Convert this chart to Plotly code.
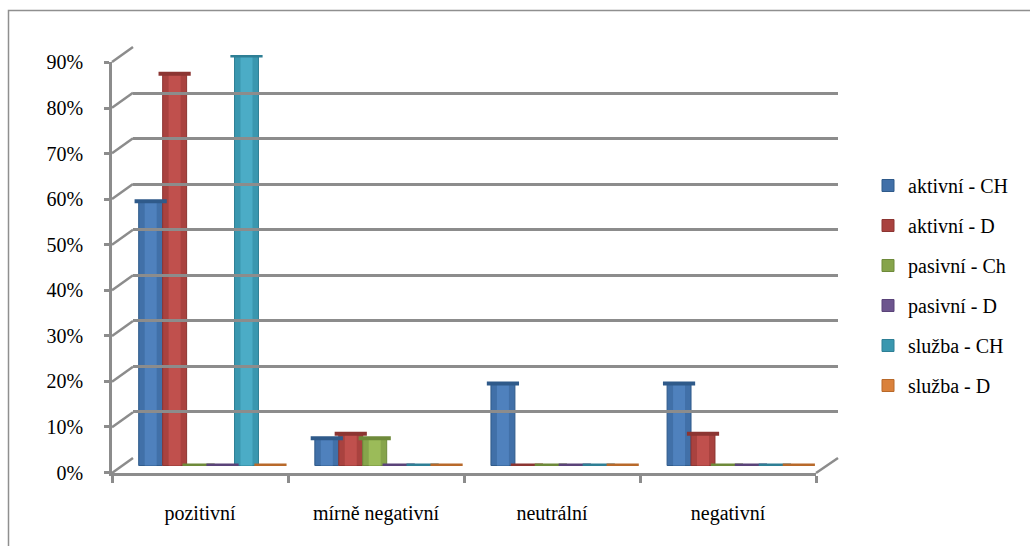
import plotly.graph_objects as go

# ---- data -------------------------------------------------------------
categories = ["pozitivní", "mírně negativní", "neutrální", "negativní"]
series_names = ["aktivní - CH", "aktivní - D", "pasivní - Ch",
                "pasivní - D", "služba - CH", "služba - D"]

aktivni_ch = [0.58, 0.06, 0.18, 0.18]
aktivni_d = [0.86, 0.07, 0.00, 0.07]
pasivni_ch = [0.00, 0.06, 0.00, 0.00]
pasivni_d = [0.00, 0.00, 0.00, 0.00]
sluzba_ch = [0.90, 0.00, 0.00, 0.00]
sluzba_d = [0.00, 0.00, 0.00, 0.00]

y_tick_values = [0.0, 0.1, 0.2, 0.3, 0.4, 0.5, 0.6, 0.7, 0.8, 0.9]
y_tick_labels = ["0%", "10%", "20%", "30%", "40%", "50%", "60%", "70%", "80%", "90%"]

# ---- styling ----------------------------------------------------------
series_values = [aktivni_ch, aktivni_d, pasivni_ch, pasivni_d, sluzba_ch, sluzba_d]
base_colors = ["#4170A8", "#A9423F", "#86A44B", "#6D558E", "#3A97AF", "#DA813B"]
light_colors = ["#4F81BD", "#C0504D", "#9BBB59", "#8064A2", "#4BACC6", "#F79646"]
edge_colors = ["#2F5A8A", "#8C3532", "#6E8A3A", "#5A4379", "#2E7F95", "#B8692A"]

W, H = 1030, 546
FONT = "Liberation Serif"
GRID = "#8C8C8C"
STEP = 411 / 9          # pixels per 10 %


def px(x):
    return x / W


def py(y):
    return 1 - y / H


RANGE = [-0.001, 0.901]
n_series = len(series_names)
bar_w = 0.136

fig = go.Figure()
for j, (name, vals) in enumerate(zip(series_names, series_values)):
    xs = [i + (j - (n_series - 1) / 2) * bar_w for i in range(len(categories))]
    fig.add_trace(go.Bar(
        x=xs, y=vals, width=bar_w, name=name, legendgroup=name,
        marker=dict(color=base_colors[j], line=dict(color=edge_colors[j], width=1)),
        xaxis="x", yaxis="y",
    ))
    # lighter core giving the rounded cylinder look
    fig.add_trace(go.Bar(
        x=xs, y=vals, width=bar_w * 0.5, showlegend=False, legendgroup=name,
        marker=dict(color=light_colors[j], line=dict(width=0)),
        xaxis="x", yaxis="y", hoverinfo="skip",
    ))
    # cap at the top of each cylinder (flat disk for zero values)
    fig.add_trace(go.Scatter(
        x=xs, y=vals, mode="markers", showlegend=False, legendgroup=name,
        marker=dict(symbol="line-ew", size=23,
                    line=dict(color=edge_colors[j], width=4)),
        xaxis="x", yaxis="y", hoverinfo="skip",
    ))

# empty traces so the back wall and the front axes get drawn
for xa, ya in (("x2", "y2"), ("x3", "y3")):
    fig.add_trace(go.Scatter(x=[None], y=[None], mode="markers",
                             showlegend=False, hoverinfo="skip",
                             xaxis=xa, yaxis=ya))

shapes = []
# side wall connectors between front and back wall
for k in range(len(y_tick_values)):
    fy = 473 - k * STEP
    by = 458 - k * STEP
    shapes.append(dict(type="line", xref="paper", yref="paper",
                       x0=px(112), y0=py(fy), x1=px(133), y1=py(by),
                       line=dict(color=GRID, width=2.5), layer="below"))
# floor right edge
shapes.append(dict(type="line", xref="paper", yref="paper",
                   x0=px(816), y0=py(473), x1=px(838), y1=py(458),
                   line=dict(color=GRID, width=2.5), layer="below"))
# chart frame
shapes.append(dict(type="rect", xref="paper", yref="paper",
                   x0=px(8.5), y0=py(10.5), x1=1.05, y1=-0.05,
                   line=dict(color="#8F8F8F", width=1.5), layer="below"))

fig.update_layout(
    width=W, height=H,
    margin=dict(l=0, r=0, t=0, b=0, pad=0, autoexpand=False),
    paper_bgcolor="white", plot_bgcolor="rgba(0,0,0,0)",
    font=dict(family=FONT, size=20, color="#000000"),
    barmode="overlay",
    showlegend=True,
    legend=dict(x=px(868), y=py(166), xanchor="left", yanchor="top",
                font=dict(family=FONT, size=20), tracegroupgap=11,
                traceorder="grouped", bgcolor="rgba(0,0,0,0)"),
    shapes=shapes,
    # bars (mid depth)
    xaxis=dict(domain=[px(122.5), px(827)], range=[-0.5, 3.5], visible=False,
               anchor="y"),
    yaxis=dict(domain=[py(466), py(55)], range=RANGE, visible=False,
               anchor="x"),
    # back wall grid
    xaxis2=dict(domain=[px(133), px(838)], range=[0, 1], anchor="y2",
                showgrid=False, zeroline=False, showline=False,
                showticklabels=False, ticks=""),
    yaxis2=dict(domain=[py(458), py(47)], range=RANGE, anchor="x2",
                tickmode="array", tickvals=y_tick_values, showgrid=True,
                gridcolor=GRID, gridwidth=2.5, zeroline=False,
                showline=False, showticklabels=False, ticks=""),
    # front axes with labels
    xaxis3=dict(domain=[px(112), px(816)], range=[-0.5, 3.5], anchor="y3",
                tickmode="array", tickvals=list(range(len(categories))),
                ticktext=categories, ticks="", showgrid=False, zeroline=False,
                showline=True, linecolor=GRID, linewidth=2.5,
                ticklabelstandoff=20, automargin=False,
                minor=dict(tickmode="array",
                           tickvals=[i - 0.5 for i in range(len(categories) + 1)],
                           ticks="outside", ticklen=7, tickwidth=2.5,
                           tickcolor=GRID, showgrid=False)),
    yaxis3=dict(domain=[py(473), py(62)], range=RANGE, anchor="x3",
                tickmode="array", tickvals=y_tick_values, ticktext=y_tick_labels,
                ticks="outside", ticklen=5, tickwidth=2.5, tickcolor=GRID,
                showgrid=False, zeroline=False, showline=True, automargin=False,
                linecolor=GRID, linewidth=2.5, ticklabelstandoff=17),
)

fig.write_html("out.html")
